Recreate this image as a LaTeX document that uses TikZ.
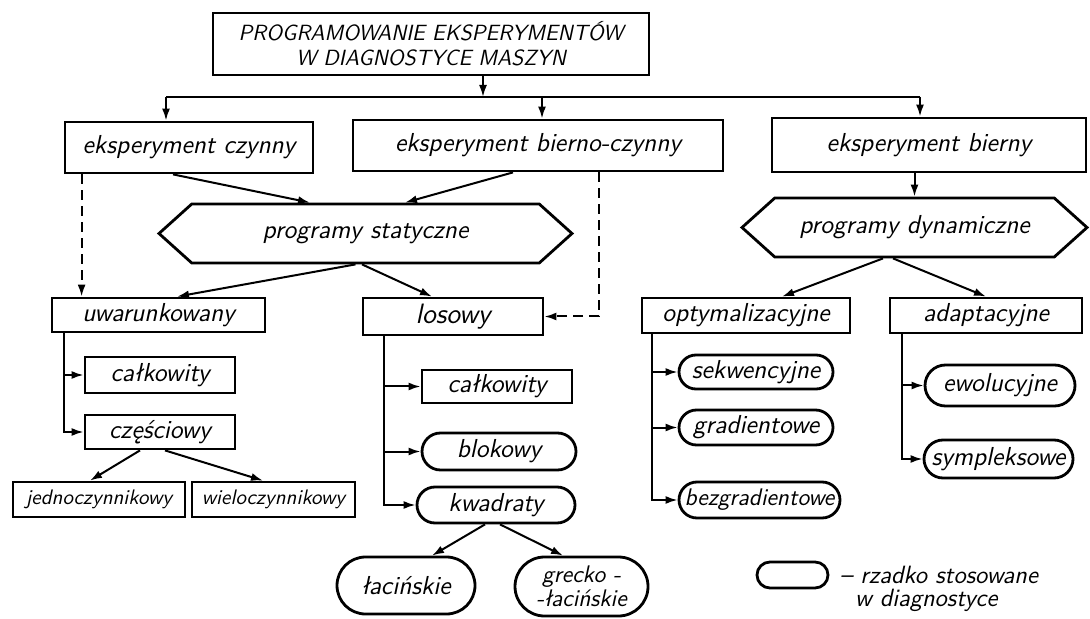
\documentclass[tikz,border=0pt]{standalone}
\usepackage{fontspec}
\usetikzlibrary{positioning,calc,arrows.meta,shapes.misc,shapes.symbols}
\tikzset{
block/.style={
  draw,
  rectangle,
  line width=1.4pt,
  inner sep=1pt,
  align=center,
  font=\sffamily\itshape\fontsize{13}{14}\selectfont
  },
oval/.style={block, rounded rectangle},
prog/.style={block, signal, signal to=west and east, signal pointer angle=84},
dims/.style 2 args={minimum width=#1, minimum height=#2},
line/.style={draw, line width=1pt}
}

\begin{document}
\begin{tikzpicture}[x=0.5pt, y=-0.5pt, >={Latex[length=6pt,width=4pt]}]
\useasboundingbox (0,0) rectangle (1090,619);
% top level
\node[block, dims={218pt}{31pt}, font=\sffamily\itshape\fontsize{11}{12.5}\selectfont] (title) at (431,44) {PROGRAMOWANIE EKSPERYMENTÓW\\W DIAGNOSTYCE MASZYN};
\node[block, dims={124pt}{25.5pt}] (czynny) at (189,147.5) {eksperyment czynny};
\node[block, dims={185pt}{25.5pt}] (biernoczynny) at (538,145.5) {eksperyment bierno-czynny};
\node[block, dims={157pt}{27pt}] (bierny) at (929,145) {eksperyment bierny};
\node[prog, dims={206.5pt}{29.5pt}] (statyczne) at (365.5,233.5) {programy statyczne};
\node[prog, dims={172.5pt}{29.5pt}] (dynamiczne) at (914.5,227.5) {programy dynamiczne};
% second level
\node[block, dims={106.5pt}{17pt}] (uwarunkowany) at (158.5,315) {uwarunkowany};
\node[block, dims={90pt}{18.5pt}, font=\sffamily\itshape\fontsize{14}{15}\selectfont] (losowy) at (453,316.5) {losowy};
\node[block, dims={104pt}{17.5pt}] (optymalizacyjne) at (746,315.5) {optymalizacyjne};
\node[block, dims={96pt}{17.5pt}] (adaptacyjne) at (986,315.5) {adaptacyjne};
% uwarunkowany
\node[block, dims={75pt}{18pt}] (calkowityA) at (160,375) {całkowity};
\node[block, dims={75pt}{17pt}] (czesciowy) at (160,432) {częściowy};
\node[block, dims={86pt}{17.5pt}, font=\sffamily\itshape\fontsize{10.5}{11}\selectfont] (jedno) at (99,499.5) {jednoczynnikowy};
\node[block, dims={81.5pt}{17.5pt}, font=\sffamily\itshape\fontsize{10.5}{11}\selectfont] (wielo) at (273.5,499.5) {wieloczynnikowy};
% losowy
\node[block, dims={75pt}{16.5pt}] (calkowityB) at (497,386.5) {całkowity};
\node[oval, dims={79pt}{18.5pt}] (blokowy) at (499,451.5) {blokowy};
\node[oval, dims={81pt}{18pt}] (kwadraty) at (496,505) {kwadraty};
\node[oval, dims={71pt}{28.5pt}] (lacinskie) at (406,585.5) {łacińskie};
\node[oval, dims={68.5pt}{29.5pt}, font=\sffamily\itshape\fontsize{12}{12}\selectfont] (grecko) at (581.5,586.5) {grecko -\\-łacińskie};
% dynamiczne
\node[oval, dims={79pt}{17pt}] (sekwencyjne) at (756,372) {sekwencyjne};
\node[oval, dims={79pt}{17.5pt}] (gradientowe) at (756,427.5) {gradientowe};
\node[oval, dims={82.5pt}{18pt}, font=\sffamily\itshape\fontsize{12}{12}\selectfont] (bezgradientowe) at (759.5,500) {bezgradientowe};
\node[oval, dims={77pt}{20.5pt}] (ewolucyjne) at (1000,385.5) {ewolucyjne};
\node[oval, dims={76.5pt}{19pt}] (sympleksowe) at (998.5,459) {sympleksowe};
% legend
\node[oval, dims={37.5pt}{13pt}] (legend) at (792.5,575) {};
\node[anchor=west, align=left, font=\sffamily\itshape\fontsize{12.5}{11.5}\selectfont] (legendtext) at (833,589) {– rzadko stosowane\\\hspace{0.6em}w diagnostyce};

% connectors
\coordinate (busL) at (166,97);
\coordinate (busT) at (483,97);
\coordinate (busM) at (542,97);
\coordinate (busR) at (920,97);
\path[line] (busL) -- (busR);
\draw[line, ->] (title.south -| busT) -- (busT);
\draw[line, ->] (busL) -- (czynny.north -| busL);
\draw[line, ->] (busM) -- (biernoczynny.north -| busM);
\draw[line, ->] (busR) -- (bierny.north -| busR);
\draw[line, ->] ($(czynny.south)+(-16,0)$) -- ($(statyczne.north)+(-55.5,0)$);
\draw[line, ->] ($(biernoczynny.south)+(-25,0)$) -- ($(statyczne.north)+(39.5,0)$);
\draw[line, ->, dash pattern=on 5pt off 3pt] ([xshift=9pt]czynny.south west) -- ([xshift=9pt]czynny.south west |- uwarunkowany.north);
\draw[line, ->, dash pattern=on 5pt off 3pt] ($(biernoczynny.south)+(61,0)$) |- (losowy.east);
\draw[line, ->] ($(statyczne.south)+(-10,0)$) -- ($(uwarunkowany.north)+(18.5,0)$);
\draw[line, ->] ($(statyczne.south)+(-3.5,0)$) -- ($(losowy.north)+(-21,0)$);
\draw[line, ->] (bierny.south -| dynamiczne.north) -- (dynamiczne.north);
\draw[line, ->] ($(dynamiczne.south)+(-31.5,0)$) -- ($(optymalizacyjne.north)+(36,0)$);
\draw[line, ->] ($(dynamiczne.south)+(-21.5,0)$) -- (adaptacyjne.north);
% branches
\foreach \n in {calkowityA,czesciowy}
  \draw[line, ->] ([xshift=6.5pt]uwarunkowany.south west) |- (\n.west);
\foreach \n in {calkowityB,blokowy,kwadraty}
  \draw[line, ->] ([xshift=11pt]losowy.south west) |- (\n.west);
\foreach \n in {sekwencyjne,gradientowe,bezgradientowe}
  \draw[line, ->] ([xshift=5.5pt]optymalizacyjne.south west) |- (\n.west);
\foreach \n in {ewolucyjne,sympleksowe}
  \draw[line, ->] ([xshift=6.5pt]adaptacyjne.south west) |- (\n.west);
\draw[line, ->] ($(czesciowy.south)+(-20,0)$) -- ($(jedno.north)+(-9,0)$);
\draw[line, ->] ($(czesciowy.south)+(5,0)$) -- ($(wielo.north)+(-10.5,0)$);
\draw[line, ->] ($(kwadraty.south)+(-11,0)$) -- ($(lacinskie.north)+(26,0)$);
\draw[line, ->] ($(kwadraty.south)+(4,0)$) -- ($(grecko.north)+(-18.5,0)$);
\end{tikzpicture}
\end{document}
